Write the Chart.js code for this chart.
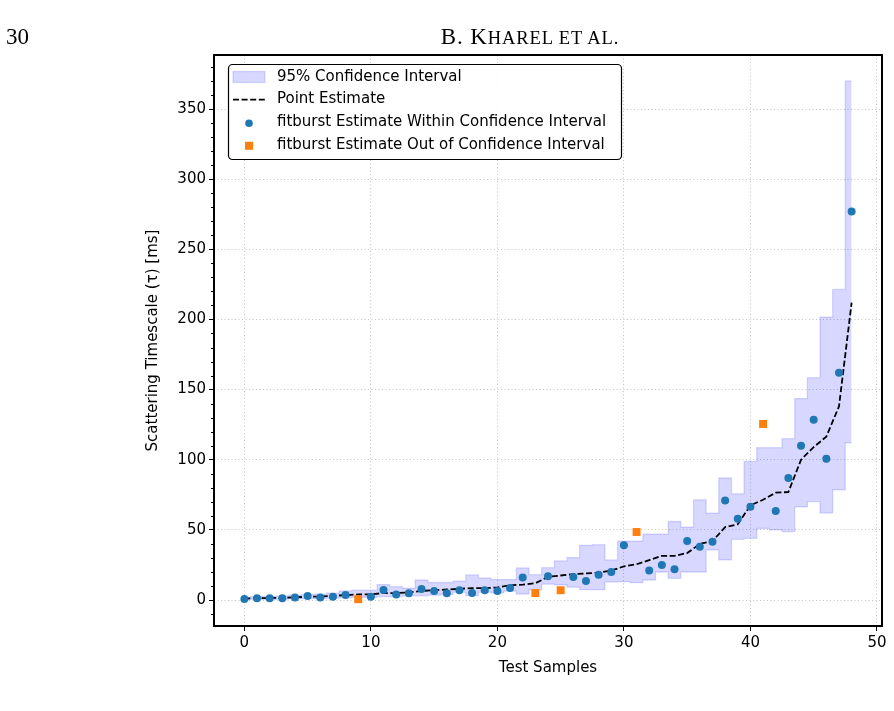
<!DOCTYPE html>
<html>
<head>
<meta charset="utf-8">
<script src="https://cdn.jsdelivr.net/npm/chart.js@4.4.1/dist/chart.umd.min.js"></script>
<style>
html,body{margin:0;padding:0;background:#fff;width:894px;height:711px;overflow:hidden}
#wrap{position:absolute;left:0;top:0;width:894px;height:711px}
.hdr{position:absolute;font-family:"Liberation Serif","DejaVu Serif",serif;font-size:23px;color:#000;white-space:nowrap;line-height:1}
.sc{font-size:18.5px}
</style>
</head>
<body>
<div id="wrap"><canvas id="c" width="894" height="711"></canvas></div>
<div class="hdr" style="left:6px;top:25px">30</div>
<div class="hdr" style="left:330px;width:400px;text-align:center;top:25px;letter-spacing:0.9px">B. K<span class="sc">HAREL ET AL.</span></div>
<script>
// ---- data ----
const SAMPLES = [0,1,2,3,4,5,6,7,8,9,10,11,12,13,14,15,16,17,18,19,20,21,22,23,24,25,26,27,28,29,30,31,32,33,34,35,36,37,38,39,40,41,42,43,44,45,46,47,48];
const CI_LOWER = [0.3,0.5,0.5,0.6,0.8,1.0,1.0,1.3,1.6,2.0,2.0,2.5,2.5,3.0,3.0,3.5,4.0,5.5,3.1,5.5,5.0,6.3,4.3,7.2,11.3,10.8,9.2,7.4,7.4,12.8,13.1,12.4,14.3,20.0,15.5,20.0,20.0,35.7,28.6,43.3,44.0,51.0,50.0,48.8,66.4,70.2,62.0,78.6,112.0];
const CI_UPPER = [2.0,2.5,2.5,2.8,3.5,4.0,4.2,5.0,6.5,7.0,7.0,11.0,9.5,8.5,14.3,12.5,12.5,13.4,17.9,15.8,14.6,14.6,22.9,18.1,23.1,27.9,30.3,39.0,39.5,28.6,42.0,42.0,47.0,47.0,56.0,52.0,71.4,62.0,87.0,75.7,98.8,108.6,108.6,115.0,143.6,158.5,201.7,221.4,370.0];
const POINT_EST = [1.0,1.3,1.4,1.6,2.0,2.3,2.5,3.0,3.5,4.0,4.0,5.0,5.0,5.5,6.5,7.0,7.5,8.0,8.5,8.5,9.0,10.5,11.0,12.0,16.5,17.5,18.5,19.0,19.5,21.0,24.0,25.5,28.5,31.5,31.5,33.5,40.0,42.0,52.0,54.0,67.5,71.5,76.5,77.0,100.0,109.0,116.5,138.0,212.0];
const WITHIN_X = [0,1,2,3,4,5,6,7,8,10,11,12,13,14,15,16,17,18,19,20,21,22,24,26,27,28,29,30,32,33,34,35,36,37,38,39,40,42,43,44,45,46,47,48];
const WITHIN_Y = [0.7,1.2,1.2,1.2,1.9,2.9,1.9,2.4,3.6,2.4,7.1,4.0,4.8,7.9,6.4,4.8,7.0,5.0,7.0,6.5,8.5,16.0,17.0,16.5,13.5,18.0,20.0,39.0,21.0,25.0,22.0,42.0,38.0,41.5,71.0,58.0,66.5,63.5,87.0,110.0,128.6,100.7,162.0,277.0];
const OUT_X = [9,23,25,31,41];
const OUT_Y = [0.6,5.0,7.0,48.5,125.5];
const X_TICKS = [0,10,20,30,40,50];
const Y_TICKS = [0,50,100,150,200,250,300,350];
const Y_MINOR = [-10,10,20,30,40,60,70,80,90,110,120,130,140,160,170,180,190,210,220,230,240,260,270,280,290,310,320,330,340,360,370,380];
const LEGEND_LABELS = ["95% Confidence Interval","Point Estimate","fitburst Estimate Within Confidence Interval","fitburst Estimate Out of Confidence Interval"];
const X_LABEL = "Test Samples";
const Y_LABEL = "Scattering Timescale (\u03c4) [ms]";

// ---- styling ----
const FONT = '"DejaVu Sans", "Liberation Sans", sans-serif';
const BAND_FILL = 'rgba(0,0,255,0.155)';
const BAND_EDGE = 'rgba(0,0,255,0.14)';
const BLUE = '#1f77b4';
const ORANGE = '#ff7f0e';
const GRID = 'rgba(176,176,176,0.75)';
const DASH = [6, 2.6];

const pts = (xs, ys) => xs.map((v, i) => ({x: v, y: ys[i]}));

function roundRectPath(ctx, x, y, w, h, r) {
  ctx.beginPath();
  ctx.moveTo(x + r, y);
  ctx.arcTo(x + w, y, x + w, y + h, r);
  ctx.arcTo(x + w, y + h, x, y + h, r);
  ctx.arcTo(x, y + h, x, y, r);
  ctx.arcTo(x, y, x + w, y, r);
  ctx.closePath();
}

const decor = {
  id: 'decor',
  afterDraw(chart) {
    const {ctx, chartArea: a, scales: {y}} = chart;
    ctx.save();
    // minor ticks on y
    ctx.strokeStyle = '#000';
    ctx.lineWidth = 1;
    Y_MINOR.forEach(v => {
      const py = Math.round(y.getPixelForValue(v)) + 0.5;
      ctx.beginPath();
      ctx.moveTo(a.left - 3, py);
      ctx.lineTo(a.left, py);
      ctx.stroke();
    });
    // frame
    ctx.lineWidth = 2;
    ctx.strokeRect(a.left, a.top, a.right - a.left, a.bottom - a.top);
    // legend
    const lx = a.left + 14, ly = a.top + 9, lw = 393, lh = 95;
    roundRectPath(ctx, lx + 0.5, ly + 0.5, lw, lh, 4);
    ctx.fillStyle = 'rgba(255,255,255,0.9)';
    ctx.fill();
    ctx.lineWidth = 1.2;
    ctx.strokeStyle = '#000';
    ctx.stroke();
    const hx0 = lx + 5, hx1 = lx + 37, hxc = (hx0 + hx1) / 2;
    const rowY = i => ly + 13 + i * 22.6;
    // patch
    ctx.fillStyle = BAND_FILL;
    ctx.fillRect(hx0, rowY(0) - 5.5, hx1 - hx0, 11);
    ctx.strokeStyle = BAND_EDGE;
    ctx.lineWidth = 1.2;
    ctx.strokeRect(hx0, rowY(0) - 5.5, hx1 - hx0, 11);
    // dashed line
    ctx.strokeStyle = '#000';
    ctx.lineWidth = 1.8;
    ctx.setLineDash(DASH);
    ctx.beginPath();
    ctx.moveTo(hx0, rowY(1));
    ctx.lineTo(hx1, rowY(1));
    ctx.stroke();
    ctx.setLineDash([]);
    // markers
    ctx.fillStyle = BLUE;
    ctx.beginPath();
    ctx.arc(hxc, rowY(2) + 1, 3.8, 0, Math.PI * 2);
    ctx.fill();
    ctx.fillStyle = ORANGE;
    ctx.fillRect(hxc - 4, rowY(3) - 3, 8, 8);
    // labels
    ctx.fillStyle = '#000';
    ctx.font = '15px ' + FONT;
    ctx.textBaseline = 'middle';
    ctx.textAlign = 'left';
    LEGEND_LABELS.forEach((t, i) => ctx.fillText(t, lx + 49, rowY(i)));
    ctx.restore();
  }
};

new Chart(document.getElementById('c'), {
  data: {
    datasets: [
      {type: 'line', label: 'lower', data: pts(SAMPLES, CI_LOWER), stepped: 'middle',
       borderColor: BAND_EDGE, borderWidth: 1.3, pointRadius: 0, fill: false, order: 4},
      {type: 'line', label: LEGEND_LABELS[0], data: pts(SAMPLES, CI_UPPER), stepped: 'middle',
       borderColor: BAND_EDGE, borderWidth: 1.3, pointRadius: 0, fill: '-1', backgroundColor: BAND_FILL, order: 3},
      {type: 'line', label: LEGEND_LABELS[1], data: pts(SAMPLES, POINT_EST),
       borderColor: '#000', borderWidth: 1.8, borderDash: DASH, pointRadius: 0, fill: false, tension: 0, order: 2},
      {type: 'scatter', label: LEGEND_LABELS[2], data: pts(WITHIN_X, WITHIN_Y),
       pointStyle: 'circle', pointRadius: 4, backgroundColor: BLUE, borderWidth: 0, order: 1},
      {type: 'scatter', label: LEGEND_LABELS[3], data: pts(OUT_X, OUT_Y),
       pointStyle: 'rect', pointRadius: 5.6, backgroundColor: ORANGE, borderWidth: 0, order: 0}
    ]
  },
  options: {
    responsive: false,
    animation: false,
    devicePixelRatio: 1,
    layout: {padding: {left: 136, right: 12, top: 55, bottom: 0}},
    plugins: {legend: {display: false}, tooltip: {enabled: false}},
    scales: {
      x: {
        type: 'linear', position: 'bottom', min: -2.4, max: 50.4,
        afterBuildTicks: s => { s.ticks = X_TICKS.map(v => ({value: v})); },
        afterFit: s => { s.height = 85; },
        ticks: {color: '#000', font: {family: FONT, size: 15}, padding: 3, maxRotation: 0},
        grid: {color: GRID, lineWidth: 1, tickLength: 5, tickColor: '#000', tickWidth: 1, tickBorderDash: []},
        border: {display: false, dash: [1, 2.5]},
        title: {display: true, text: X_LABEL, color: '#000', font: {family: FONT, size: 15}, padding: {top: 0, bottom: 34}}
      },
      y: {
        type: 'linear', position: 'left', min: -18.5, max: 388.5,
        afterBuildTicks: s => { s.ticks = Y_TICKS.map(v => ({value: v})); },
        afterFit: s => { s.width = 78; },
        ticks: {color: '#000', font: {family: FONT, size: 15}, padding: 3},
        grid: {color: GRID, lineWidth: 1, tickLength: 5, tickColor: '#000', tickWidth: 1, tickBorderDash: []},
        border: {display: false, dash: [1, 2.5]},
        title: {display: true, text: Y_LABEL, color: '#000', font: {family: FONT, size: 15}, padding: {top: 8, bottom: 0}}
      }
    }
  },
  plugins: [decor]
});
</script>
</body>
</html>
